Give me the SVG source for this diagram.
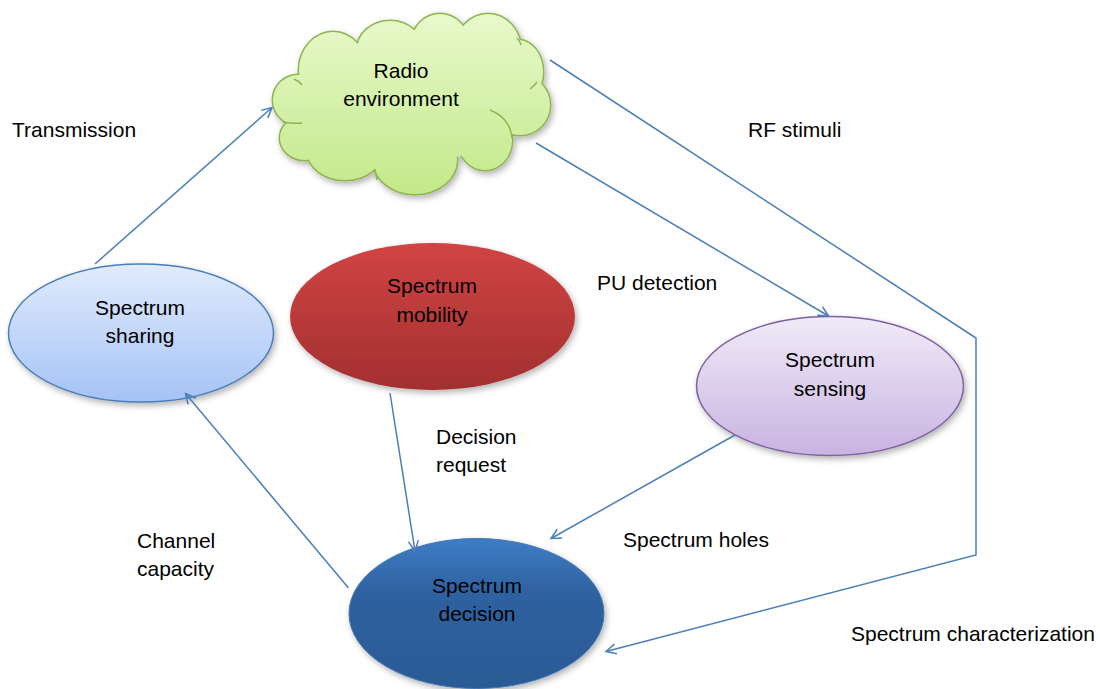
<svg xmlns="http://www.w3.org/2000/svg" width="1100" height="689" viewBox="0 0 1100 689">
  <defs>
    <style>
      text { font-family: "Liberation Sans", Arial, sans-serif; font-size: 21px; fill: #000; }
      .node text { text-anchor: middle; }
      .edge { fill: none; stroke: #4a7ebb; stroke-width: 1.5; }
      .cloud-line { fill: url(#gCloud); stroke: #8fb551; stroke-width: 3; }
      .cloud-fill { fill: url(#gCloud); stroke: none; }
      .cloud-inner { fill: none; stroke: #8fb551; stroke-width: 1.5; }
    </style>
    <linearGradient id="gCloud" gradientUnits="userSpaceOnUse" x1="0" y1="14" x2="0" y2="194">
      <stop offset="0" stop-color="#e8f9cb"/>
      <stop offset="1" stop-color="#c3e98a"/>
    </linearGradient>
    <linearGradient id="gSharing" x1="0" y1="0" x2="0" y2="1">
      <stop offset="0" stop-color="#e1ebfc"/>
      <stop offset="1" stop-color="#a5c3f6"/>
    </linearGradient>
    <linearGradient id="gMobility" x1="0" y1="0" x2="0" y2="1">
      <stop offset="0" stop-color="#d24444"/>
      <stop offset="1" stop-color="#a22f2f"/>
    </linearGradient>
    <linearGradient id="gSensing" x1="0" y1="0" x2="0" y2="1">
      <stop offset="0" stop-color="#f0ebf8"/>
      <stop offset="1" stop-color="#c9b3e1"/>
    </linearGradient>
    <linearGradient id="gDecision" x1="0" y1="0" x2="0" y2="1">
      <stop offset="0" stop-color="#3e7dc6"/>
      <stop offset="0.35" stop-color="#2f62a1"/>
      <stop offset="1" stop-color="#2b5a94"/>
    </linearGradient>
    <filter id="shadow" x="-10%" y="-10%" width="125%" height="130%">
      <feDropShadow dx="2" dy="3" stdDeviation="3" flood-color="#000" flood-opacity="0.3"/>
    </filter>
    <marker id="arrow" viewBox="0 0 12 12" refX="11" refY="6" markerWidth="12" markerHeight="12" markerUnits="userSpaceOnUse" orient="auto">
      <path d="M1,1 L11,6 L1,11" fill="none" stroke="#4a7ebb" stroke-width="1.5"/>
    </marker>
  </defs>

  <rect width="1100" height="689" fill="#fff"/>

  <!-- Radio environment cloud: outlined bumps, then the same bumps filled on top to hide inner strokes -->
  <g id="radio-environment" class="node">
    <g filter="url(#shadow)">
      <g class="cloud-line">
        <ellipse cx="298" cy="100" rx="25" ry="25"/>
        <ellipse cx="333" cy="70" rx="34" ry="38"/>
        <ellipse cx="390" cy="50" rx="33" ry="29"/>
        <ellipse cx="440" cy="42" rx="28" ry="28"/>
        <ellipse cx="488" cy="50" rx="33" ry="36"/>
        <ellipse cx="518" cy="72" rx="25" ry="32"/>
        <ellipse cx="520" cy="105" rx="30" ry="30"/>
        <ellipse cx="485" cy="140" rx="27" ry="30"/>
        <ellipse cx="415" cy="160" rx="42" ry="34"/>
        <ellipse cx="345" cy="150" rx="38" ry="30"/>
        <ellipse cx="305" cy="138" rx="25" ry="22"/>
      </g>
      <g class="cloud-fill">
        <ellipse cx="298" cy="100" rx="25" ry="25"/>
        <ellipse cx="333" cy="70" rx="34" ry="38"/>
        <ellipse cx="390" cy="50" rx="33" ry="29"/>
        <ellipse cx="440" cy="42" rx="28" ry="28"/>
        <ellipse cx="488" cy="50" rx="33" ry="36"/>
        <ellipse cx="518" cy="72" rx="25" ry="32"/>
        <ellipse cx="520" cy="105" rx="30" ry="30"/>
        <ellipse cx="485" cy="140" rx="27" ry="30"/>
        <ellipse cx="415" cy="160" rx="42" ry="34"/>
        <ellipse cx="345" cy="150" rx="38" ry="30"/>
        <ellipse cx="305" cy="138" rx="25" ry="22"/>
        <ellipse cx="412" cy="100" rx="112" ry="62"/>
      </g>
    </g>
    <path class="cloud-inner" d="M490,110 Q510,118 512,138"/>
    <path class="cloud-inner" d="M294,79 Q299,81 302,85"/>
    <path class="cloud-inner" d="M283,122 Q293,124 302,123"/>
    <path class="cloud-inner" d="M375,169 Q376,175 377,180"/>
    <path class="cloud-inner" d="M537,82 Q534,86 530,89"/>
    <path class="cloud-inner" d="M517,38 Q520,41 521,45"/>
    <text x="401" y="78">Radio</text>
    <text x="401" y="106">environment</text>
  </g>

  <g id="spectrum-sharing" class="node">
    <ellipse cx="141" cy="333" rx="132.5" ry="69" fill="url(#gSharing)" stroke="#4a7ebb" stroke-width="1.5" filter="url(#shadow)"/>
    <text x="140" y="315">Spectrum</text>
    <text x="140" y="343">sharing</text>
  </g>

  <g id="spectrum-mobility" class="node">
    <ellipse cx="432.5" cy="316.5" rx="142.5" ry="73.5" fill="url(#gMobility)" filter="url(#shadow)"/>
    <text x="432" y="293">Spectrum</text>
    <text x="432" y="322">mobility</text>
  </g>

  <g id="spectrum-sensing" class="node">
    <ellipse cx="830" cy="386" rx="133.5" ry="69.5" fill="url(#gSensing)" stroke="#7e62a1" stroke-width="1.5" filter="url(#shadow)"/>
    <text x="830" y="367">Spectrum</text>
    <text x="830" y="396">sensing</text>
  </g>

  <g id="spectrum-decision" class="node">
    <ellipse cx="476.5" cy="613.5" rx="127.5" ry="75" fill="url(#gDecision)" stroke="#3f74b2" stroke-width="1" filter="url(#shadow)"/>
    <text x="477" y="593">Spectrum</text>
    <text x="477" y="621">decision</text>
  </g>

  <g id="connectors">
    <line class="edge" x1="95" y1="264" x2="272" y2="107.5" marker-end="url(#arrow)"/>
    <line class="edge" x1="536" y1="143" x2="828.5" y2="316" marker-end="url(#arrow)"/>
    <polyline class="edge" points="550,60 976,338 976,555 606,651.5" marker-end="url(#arrow)"/>
    <line class="edge" x1="390" y1="393" x2="415" y2="551" marker-end="url(#arrow)"/>
    <line class="edge" x1="735" y1="435" x2="551" y2="538.5" marker-end="url(#arrow)"/>
    <line class="edge" x1="348.5" y1="588" x2="185.5" y2="393.5" marker-end="url(#arrow)"/>
  </g>

  <g id="labels">
    <text x="12" y="137">Transmission</text>
    <text x="748" y="137">RF stimuli</text>
    <text x="597" y="290">PU detection</text>
    <text x="436" y="444">Decision</text>
    <text x="436" y="472">request</text>
    <text x="137" y="548">Channel</text>
    <text x="137" y="576">capacity</text>
    <text x="623" y="547">Spectrum holes</text>
    <text x="851" y="641">Spectrum characterization</text>
  </g>
</svg>
